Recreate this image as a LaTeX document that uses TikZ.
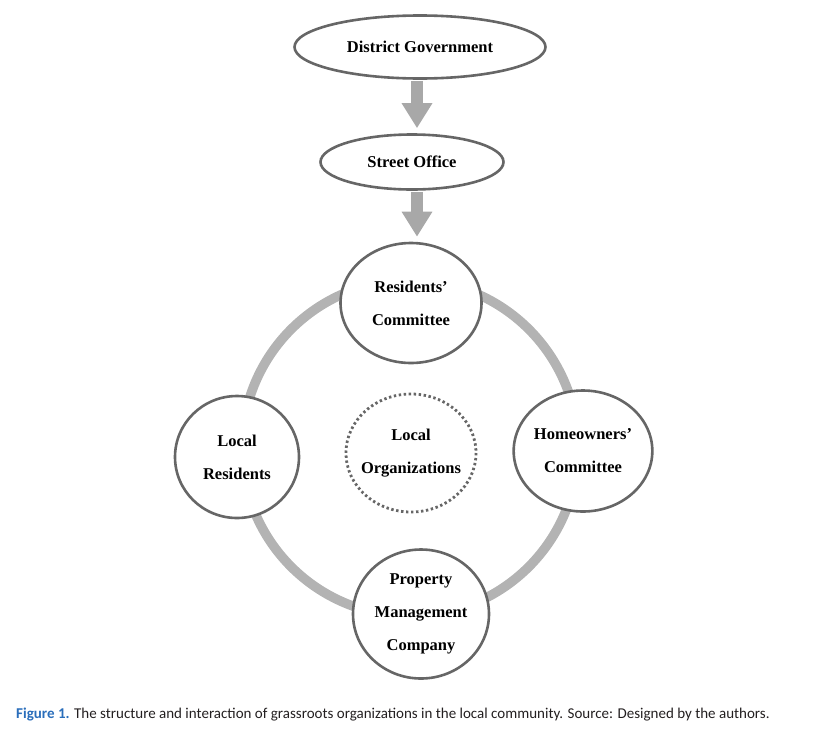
\documentclass[tikz,border=0pt]{standalone}
\usepackage{fontspec}
\setmainfont{Liberation Serif}
\newfontfamily\capfont{Carlito}
\usepackage{xcolor}
\definecolor{RingGray}{HTML}{B3B3B3}
\definecolor{ArrowGray}{HTML}{A8A8A8}
\definecolor{EdgeGray}{HTML}{666666}
\definecolor{FigBlue}{HTML}{2A6EBB}
\definecolor{CapText}{HTML}{231F20}
\usetikzlibrary{arrows.meta, positioning, shapes.geometric}

\begin{document}
\begin{tikzpicture}[x=1pt,y=-1pt,
  org/.style={ellipse, draw=EdgeGray, line width=2.6pt, fill=white, inner sep=0pt,
    align=center, font=\bfseries\fontsize{16.5}{33}\selectfont},
  flow/.style={ArrowGray, line width=12pt, -{Triangle[width=29pt,length=25pt]}},
  ring/.style={RingGray, line width=9.5pt}]
  \useasboundingbox (0,0) rectangle (816,734);
  % the ring of local actors
  \coordinate (hub) at (410,448);
  \draw[ring] (hub) circle (168);
  \node[org, minimum width=251, minimum height=63] (dg) at (420,47) {District Government};
  \node[org, minimum width=183, minimum height=55] (so) at (412,162) {Street Office};
  \node[org, minimum width=141, minimum height=120] (rc) at (411,303) {Residents’\\Committee};
  \node[org, minimum width=124, minimum height=122] (lr) at (237,457) {Local\\Residents};
  \node[org, minimum width=129, minimum height=121] (hc) at (583,451) {Homeowners’\\Committee};
  \node[org, minimum width=136, minimum height=129] (pm) at (421,614) {Property\\Management\\Company};
  \node[org, draw=none, minimum width=130, minimum height=118] (lo) at (411,453) {Local\\Organizations};
  \draw[EdgeGray, line width=2.8pt, dash pattern=on 2.4pt off 2.6pt] (lo) ellipse (65 and 59);
  % hierarchy
  \draw[flow, shorten <=1pt, shorten >=5pt] (dg.south -| 417,0) -- (so.north -| 417,0);
  \draw[flow, shorten <=1pt, shorten >=5pt] (so.south -| 417,0) -- (rc.north -| 417,0);
  \node[anchor=west, inner sep=0pt, font=\capfont\fontsize{15}{17}\selectfont, text=CapText] (cap) at (16,715)
    {\textcolor{FigBlue}{\bfseries Figure 1.} The structure and interaction of grassroots organizations in the local community. Source: Designed by the authors.};
\end{tikzpicture}
\end{document}
